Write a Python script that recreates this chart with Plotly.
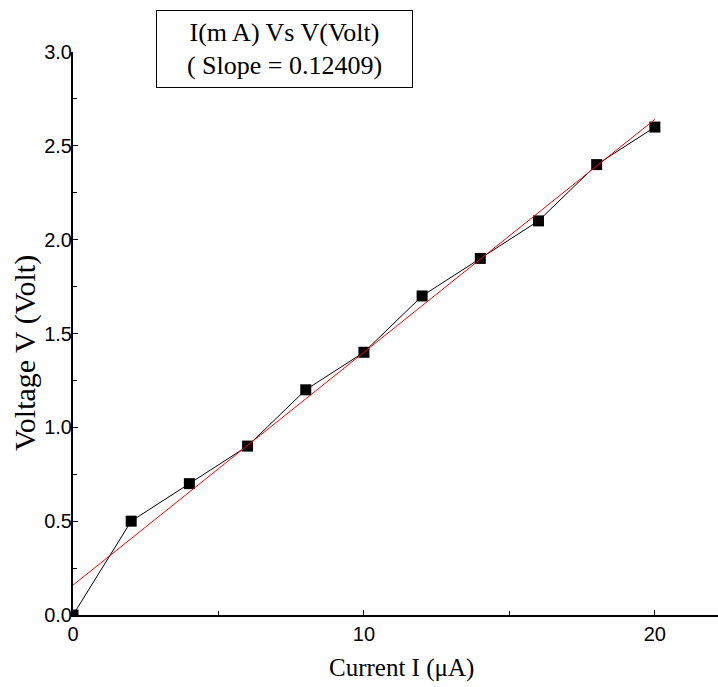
import numpy as np
import plotly.graph_objects as go

# Measured current (µA) and voltage (V)
current_ua = [0, 2, 4, 6, 8, 10, 12, 14, 16, 18, 20]
voltage_v = [0.0, 0.5, 0.7, 0.9, 1.2, 1.4, 1.7, 1.9, 2.1, 2.4, 2.6]

x_ticks = [0, 10, 20]
y_ticks = [0.0, 0.5, 1.0, 1.5, 2.0, 2.5, 3.0]
y_tick_text = ["0.0", "0.5", "1.0", "1.5", "2.0", "2.5", "3.0"]

# Least-squares straight-line fit
slope, intercept = np.polyfit(current_ua, voltage_v, 1)
fit_x = [current_ua[0], current_ua[-1]]
fit_y = [intercept + slope * x for x in fit_x]

SERIF = "Liberation Serif, Times New Roman, serif"
SANS = "Liberation Sans, Arial, sans-serif"

# plot area in pixels
L, R, T, B = 73, 0, 52, 72
W, H = 718, 687
PW, PH = W - L - R, H - T - B

fig = go.Figure()
fig.add_trace(go.Scatter(
    x=current_ua, y=voltage_v, mode="lines+markers",
    line=dict(color="black", width=1),
    marker=dict(symbol="square", size=11, color="black"),
    showlegend=False,
))
fig.add_trace(go.Scatter(
    x=fit_x, y=fit_y, mode="lines",
    line=dict(color="red", width=1),
    showlegend=False,
))

axis_common = dict(
    showgrid=False, zeroline=False, showline=True,
    linecolor="black", linewidth=2,
    ticks="inside", ticklen=5, tickwidth=1, tickcolor="black",
    tickfont=dict(family=SANS, size=20, color="black"),
)

fig.update_xaxes(
    range=[0, 22.17], tickvals=x_ticks,
    minor=dict(dtick=5, ticks="inside", ticklen=4, tickcolor="black"),
    **axis_common,
)
fig.update_yaxes(
    range=[0, 3.0], tickvals=y_ticks, ticktext=y_tick_text,
    minor=dict(dtick=0.25, ticks="inside", ticklen=4, tickcolor="black"),
    ticklabelstandoff=-5,
    **axis_common,
)

# axis titles
fig.add_annotation(
    xref="paper", yref="paper", x=(401 - L) / PW, y=(H - B - 668) / PH,
    xanchor="center", yanchor="middle", showarrow=False,
    text="Current I (μA)",
    font=dict(family=SERIF, size=25, color="black"),
)
fig.add_annotation(
    xref="paper", yref="paper", x=(25 - L) / PW, y=(H - B - 353) / PH,
    xanchor="center", yanchor="middle", showarrow=False, textangle=-90,
    text="Voltage V (Volt)",
    font=dict(family=SERIF, size=30, color="black"),
)

# title box
fig.add_annotation(
    xref="paper", yref="paper", x=(284 - L) / PW, y=(H - B - 49) / PH,
    xanchor="center", yanchor="middle",
    text=f"I(m A) Vs V(Volt)<br>( Slope = {slope:.5f})",
    showarrow=False, align="center",
    font=dict(family=SERIF, size=26, color="black"),
    bordercolor="black", borderwidth=1, borderpad=3,
    bgcolor="white", width=249, height=70,
)

fig.update_layout(
    width=W, height=H,
    margin=dict(l=L, r=R, t=T, b=B),
    paper_bgcolor="white", plot_bgcolor="white",
)

fig.write_html("out.html")
